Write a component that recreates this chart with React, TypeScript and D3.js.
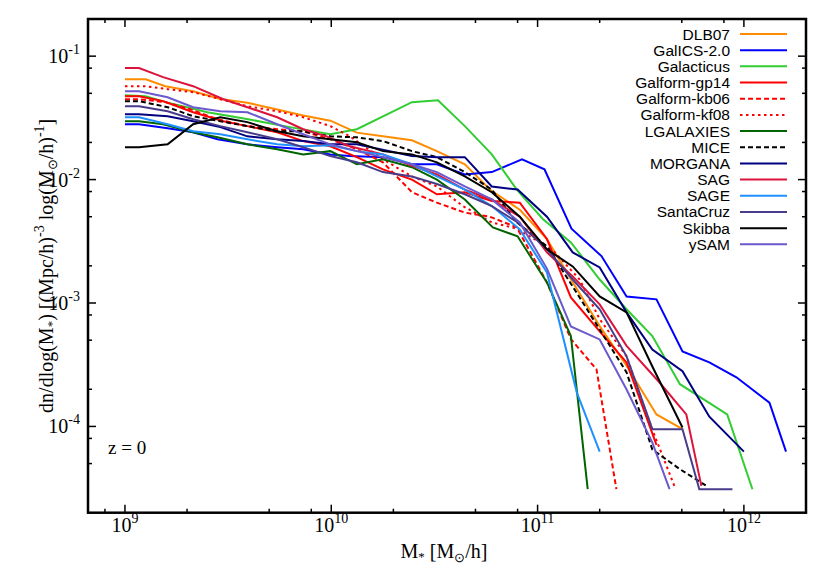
import React from 'react';
import * as d3 from 'd3';

type P = [number, number];

const DLB07: P[] = [[1.0e9,0.065],[1.26e9,0.065],[1.57e9,0.057],[2.14e9,0.052],[2.9e9,0.045],[3.92e9,0.042],[5.47e9,0.037],[7.31e9,0.033],[9.9e9,0.030],[1.33e10,0.024],[1.78e10,0.0224],[2.46e10,0.0208],[3.25e10,0.017],[4.44e10,0.0133],[5.87e10,0.0083],[8.2e10,0.0057],[1.11e11,0.0033],[1.48e11,0.00147],[2.0e11,0.00065],[2.7e11,0.00031],[3.77e11,0.000125],[5.04e11,9.5e-5]];
const GALICS: P[] = [[1e9,0.0281],[1.17e9,0.0281],[1.61e9,0.0261],[2.14e9,0.0242],[2.81e9,0.0212],[3.92e9,0.0193],[5.47e9,0.0183],[7.31e9,0.0176],[9.9e9,0.016],[1.23e10,0.0155],[1.78e10,0.0152],[2.46e10,0.0133],[3.25e10,0.0133],[4.44e10,0.011],[6.0e10,0.0115],[8.4e10,0.0146],[1.08e11,0.0121],[1.46e11,0.0040],[2.04e11,0.0024],[2.7e11,0.00113],[3.77e11,0.00107],[5.04e11,0.000405],[6.8e11,0.00033],[9.2e11,0.00025],[1.33e12,0.000156],[1.6e12,6.25e-5]];
const GALACTICUS: P[] = [[1e9,0.0483],[1.26e9,0.0474],[1.58e9,0.0424],[2.51e9,0.0351],[3.96e9,0.0308],[6.3e9,0.0266],[9.9e9,0.0233],[1.33e10,0.0256],[2.46e10,0.0424],[3.29e10,0.044],[4.44e10,0.0271],[6.0e10,0.016],[7.93e10,0.0083],[1.06e11,0.0048],[1.45e11,0.0031],[2e11,0.00155],[2.7e11,0.00089],[3.6e11,0.00054],[4.9e11,0.00022],[8.3e11,0.000125],[1.1e12,3.1e-5]];
const GP14: P[] = [[1e9,0.0474],[1.17e9,0.0474],[1.53e9,0.0432],[2.14e9,0.0351],[3.0e9,0.0297],[3.92e9,0.0271],[5.47e9,0.0242],[7.31e9,0.0205],[9.9e9,0.0186],[1.33e10,0.0152],[1.78e10,0.0121],[2.46e10,0.0100],[3.25e10,0.0076],[4.44e10,0.0079],[6.0e10,0.0067],[8.2e10,0.0065],[1.11e11,0.0033],[1.45e11,0.00111],[2.0e11,0.00059],[2.7e11,0.00033],[3.77e11,7.1e-5]];
const KB06: P[] = [[1e9,0.0448],[1.17e9,0.0448],[1.57e9,0.0424],[2.07e9,0.0372],[2.81e9,0.0308],[3.92e9,0.0271],[5.47e9,0.0256],[7.31e9,0.0246],[9.9e9,0.0212],[1.33e10,0.0176],[1.78e10,0.0138],[2.46e10,0.0079],[3.25e10,0.0065],[4.44e10,0.0054],[5.87e10,0.005],[7.93e10,0.0041],[1.11e11,0.00147],[1.45e11,0.00051],[1.93e11,0.00029],[2.41e11,3.1e-5]];
const KF08: P[] = [[1e9,0.057],[1.26e9,0.057],[1.61e9,0.054],[2.14e9,0.0511],[2.9e9,0.0448],[3.92e9,0.0393],[5.47e9,0.0358],[7.31e9,0.032],[9.9e9,0.0271],[1.23e10,0.0224],[1.78e10,0.0146],[2.46e10,0.0106],[3.25e10,0.0088],[4.35e10,0.0061],[6.0e10,0.0045],[7.93e10,0.004],[1.18e11,0.0027],[1.6e11,0.00155],[2e11,0.00074],[2.7e11,0.00037],[3.6e11,9.4e-5],[4.6e11,3.3e-5]];
const LGALAXIES: P[] = [[1e9,0.0297],[1.17e9,0.0297],[1.53e9,0.0281],[2.14e9,0.0242],[2.81e9,0.022],[3.92e9,0.0193],[5.47e9,0.0176],[7.31e9,0.016],[9.9e9,0.017],[1.33e10,0.0133],[1.78e10,0.0146],[2.46e10,0.0126],[3.25e10,0.01],[4.44e10,0.0069],[6.07e10,0.0041],[8.0e10,0.00347],[1.11e11,0.00147],[1.45e11,0.00054],[1.75e11,3.1e-5]];
const MICE: P[] = [[1e9,0.0432],[1.17e9,0.0432],[1.61e9,0.0386],[2.14e9,0.0326],[2.9e9,0.0297],[3.92e9,0.0271],[5.47e9,0.0246],[7.31e9,0.0246],[9.9e9,0.0224],[1.33e10,0.022],[1.78e10,0.0205],[2.46e10,0.017],[3.25e10,0.0152],[4.44e10,0.0115],[6.0e10,0.0083],[7.93e10,0.0045],[1.11e11,0.00288],[1.48e11,0.00136],[2e11,0.00061],[2.7e11,0.000274],[3.6e11,6.5e-5],[4.9e11,4.5e-5],[6.58e11,3.3e-5]];
const MORGANA: P[] = [[1e9,0.0339],[1.17e9,0.0339],[1.61e9,0.0326],[2.14e9,0.0297],[2.9e9,0.0266],[3.92e9,0.0224],[5.47e9,0.0212],[7.31e9,0.0205],[9.9e9,0.0193],[1.33e10,0.0193],[2.46e10,0.0155],[3.25e10,0.0152],[4.44e10,0.0152],[6.0e10,0.0088],[8e10,0.0083],[1.11e11,0.005],[1.48e11,0.00257],[2e11,0.00194],[2.7e11,0.00084],[3.6e11,0.00042],[5.04e11,0.00028],[6.8e11,0.00012],[1.0e12,6.25e-5]];
const SAG: P[] = [[1e9,0.08],[1.17e9,0.08],[1.53e9,0.0676],[2.14e9,0.0571],[3e9,0.0448],[3.92e9,0.0386],[5.47e9,0.032],[7.31e9,0.0256],[9.5e9,0.0224],[1.23e10,0.0186],[1.78e10,0.016],[2.46e10,0.0129],[3.25e10,0.011],[4.44e10,0.0083],[6.0e10,0.0069],[8.2e10,0.0050],[1.11e11,0.00257],[1.48e11,0.00164],[2e11,0.000975],[2.7e11,0.00045],[3.9e11,0.000227],[5.26e11,0.000125],[6.22e11,3.3e-5]];
const SAGE: P[] = [[1e9,0.032],[1.17e9,0.032],[1.61e9,0.0281],[2.14e9,0.0246],[2.9e9,0.0233],[3.92e9,0.0212],[5.47e9,0.0193],[7.31e9,0.0186],[9.9e9,0.019],[1.33e10,0.017],[1.78e10,0.016],[2.46e10,0.0133],[3.25e10,0.0106],[4.44e10,0.0083],[6e10,0.0061],[8.2e10,0.00395],[1.11e11,0.00177],[1.55e11,0.000188],[2e11,6.25e-5]];
const SANTACRUZ: P[] = [[1e9,0.0393],[1.17e9,0.0393],[1.61e9,0.0358],[2.14e9,0.0308],[2.9e9,0.0271],[3.92e9,0.0242],[5.47e9,0.0212],[7.31e9,0.0183],[9.9e9,0.0155],[1.33e10,0.0138],[1.78e10,0.0115],[2.46e10,0.0106],[3.25e10,0.0092],[4.44e10,0.0076],[6e10,0.0061],[8e10,0.0045],[1.11e11,0.00272],[1.48e11,0.00155],[2e11,0.00089],[2.7e11,0.00037],[3.6e11,9.5e-5],[5.04e11,9.5e-5],[6.08e11,3.1e-5],[8.8e11,3.1e-5]];
const SKIBBA: P[] = [[1e9,0.0183],[1.17e9,0.0183],[1.61e9,0.0193],[2.14e9,0.0281],[2.9e9,0.032],[3.92e9,0.0292],[5.47e9,0.0246],[7.31e9,0.0224],[9.9e9,0.0212],[1.33e10,0.0201],[1.78e10,0.017],[2.46e10,0.016],[3.25e10,0.0138],[4.44e10,0.0106],[6e10,0.0079],[8.2e10,0.005],[1.11e11,0.00272],[1.48e11,0.00198],[2e11,0.00113],[2.7e11,0.00084],[3.6e11,0.000306],[5.04e11,9.8e-5]];
const YSAM: P[] = [[1e9,0.052],[1.17e9,0.052],[1.61e9,0.0465],[2.14e9,0.0386],[2.9e9,0.0358],[3.92e9,0.0351],[5.47e9,0.0281],[7.31e9,0.0233],[9.9e9,0.0193],[1.33e10,0.017],[1.78e10,0.0152],[2.46e10,0.0133],[3.25e10,0.0115],[4.44e10,0.0088],[6e10,0.0069],[8.2e10,0.0045],[1.11e11,0.0019],[1.45e11,0.000646],[2e11,0.000507],[2.7e11,0.000199],[3.6e11,7.4e-5],[4.36e11,3.1e-5]];

const MODEL_NAMES = ['DLB07','GalICS-2.0','Galacticus','Galform-gp14','Galform-kb06','Galform-kf08','LGALAXIES','MICE','MORGANA','SAG','SAGE','SantaCruz','Skibba','ySAM'];
const MODEL_DATA = [DLB07, GALICS, GALACTICUS, GP14, KB06, KF08, LGALAXIES, MICE, MORGANA, SAG, SAGE, SANTACRUZ, SKIBBA, YSAM];
const STYLES = [
  { color: '#ff8c00', dash: '' },
  { color: '#0000ff', dash: '' },
  { color: '#32cd32', dash: '' },
  { color: '#ff0000', dash: '' },
  { color: '#ff0000', dash: '5,3' },
  { color: '#ff0000', dash: '2.5,3.5' },
  { color: '#006400', dash: '' },
  { color: '#000000', dash: '5,3' },
  { color: '#000080', dash: '' },
  { color: '#dc143c', dash: '' },
  { color: '#1e90ff', dash: '' },
  { color: '#483d8b', dash: '' },
  { color: '#000000', dash: '' },
  { color: '#6a5acd', dash: '' },
];

const X_TICKS = [1e9, 1e10, 1e11, 1e12];
const X_TICK_EXP = ['9', '10', '11', '12'];
const Y_TICKS = [1e-4, 1e-3, 1e-2, 1e-1];
const Y_TICK_EXP = ['-4', '-3', '-2', '-1'];
const MINOR_MULT = [2, 5, 8];

const W = 830, H = 581;
const L = 88, R = 806, T = 19, B = 512.7;
const SERIF = '"Liberation Serif", "Times New Roman", serif';
const SANS = '"Liberation Sans", Arial, sans-serif';

export default function App() {
  const x = d3.scaleLog().domain([6.62e8, 2e12]).range([L, R]);
  const y = d3.scaleLog().domain([2e-5, 0.2]).range([B, T]);
  const line = d3.line<P>().x(d => x(d[0])).y(d => y(d[1]));

  const xMinor: number[] = [];
  for (let e = 8; e <= 12; e++) for (const m of MINOR_MULT) { const v = m * Math.pow(10, e); if (x(v) > L + 1 && x(v) < R - 1) xMinor.push(v); }
  const yMinor: number[] = [];
  for (let e = -5; e <= -1; e++) for (const m of MINOR_MULT) { const v = m * Math.pow(10, e); if (y(v) < B - 1 && y(v) > T + 1) yMinor.push(v); }

  const legTop = 34, legStep = 16.18;

  return (
    <svg width={W} height={H} style={{ position: 'absolute', left: 0, top: 0, background: '#fff' }}>
      <rect x={0} y={0} width={W} height={H} fill="#fff" />
      <defs>
        <clipPath id="plotclip"><rect x={L} y={T} width={R - L} height={B - T} /></clipPath>
      </defs>
      <g clipPath="url(#plotclip)">
        {MODEL_DATA.map((d, i) => (
          <path key={i} d={line(d) || ''} fill="none" stroke={STYLES[i].color} strokeWidth={2}
            strokeDasharray={STYLES[i].dash || undefined} strokeLinejoin="miter" />
        ))}
      </g>
      <g stroke="#000" strokeWidth={1.5}>
        {X_TICKS.map((v, i) => (
          <g key={'xt' + i}>
            <line x1={x(v)} x2={x(v)} y1={B} y2={B - 8} />
            <line x1={x(v)} x2={x(v)} y1={T} y2={T + 8} />
          </g>
        ))}
        {xMinor.map((v, i) => (
          <g key={'xm' + i}>
            <line x1={x(v)} x2={x(v)} y1={B} y2={B - 4} />
            <line x1={x(v)} x2={x(v)} y1={T} y2={T + 4} />
          </g>
        ))}
        {Y_TICKS.map((v, i) => (
          <g key={'yt' + i}>
            <line x1={L} x2={L + 8} y1={y(v)} y2={y(v)} />
            <line x1={R} x2={R - 8} y1={y(v)} y2={y(v)} />
          </g>
        ))}
        {yMinor.map((v, i) => (
          <g key={'ym' + i}>
            <line x1={L} x2={L + 4} y1={y(v)} y2={y(v)} />
            <line x1={R} x2={R - 4} y1={y(v)} y2={y(v)} />
          </g>
        ))}
      </g>
      <rect x={L} y={T} width={R - L} height={B - T} fill="none" stroke="#000" strokeWidth={2.5} />
      <g fontFamily={SERIF} fill="#000">
        {X_TICKS.map((v, i) => (
          <text key={'xl' + i} x={x(v)} y={532} textAnchor="middle" fontSize={20}>
            10<tspan dy={-9} fontSize={14}>{X_TICK_EXP[i]}</tspan>
          </text>
        ))}
        {Y_TICKS.map((v, i) => (
          <text key={'yl' + i} x={80} y={y(v) + 7} textAnchor="end" fontSize={20}>
            10<tspan dy={-9} fontSize={14}>{Y_TICK_EXP[i]}</tspan>
          </text>
        ))}
        <text x={444} y={558} textAnchor="middle" fontSize={20}>
          M<tspan fontSize={13} dy={3}>*</tspan><tspan dy={-3}> [M</tspan><tspan fontSize={13} dy={4}>⊙</tspan><tspan dy={-4}>/h]</tspan>
        </text>
        <text transform={`translate(53, ${(T + B) / 2}) rotate(-90)`} textAnchor="middle" fontSize={20}>
          dn/dlog(M<tspan fontSize={13} dy={3}>*</tspan><tspan dy={-3}>) [(Mpc/h)</tspan><tspan fontSize={14} dy={-9}>-3</tspan><tspan dy={9}> log(M</tspan><tspan fontSize={13} dy={4}>⊙</tspan><tspan dy={-4}>/h)</tspan><tspan fontSize={14} dy={-9}>-1</tspan><tspan dy={9}>]</tspan>
        </text>
        <text x={108} y={454} fontSize={19}>z = 0</text>
      </g>
      <g fontFamily={SANS} fontSize={15.5}>
        {MODEL_NAMES.map((n, i) => {
          const cy = legTop + i * legStep;
          return (
            <g key={'lg' + i}>
              <text x={730} y={cy + 5.5} textAnchor="end" fill="#000">{n}</text>
              <line x1={740} x2={787} y1={cy} y2={cy} stroke={STYLES[i].color} strokeWidth={2}
                strokeDasharray={STYLES[i].dash || undefined} />
            </g>
          );
        })}
      </g>
    </svg>
  );
}
